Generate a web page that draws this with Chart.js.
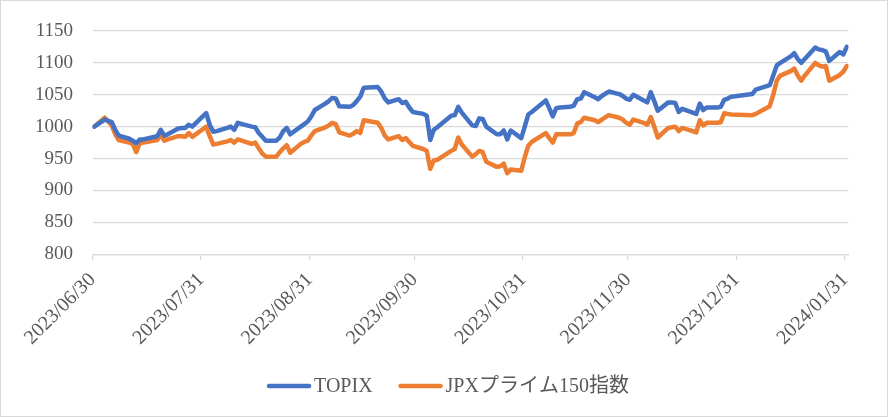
<!DOCTYPE html>
<html>
<head>
<meta charset="utf-8">
<script src="https://cdn.jsdelivr.net/npm/chart.js@4/dist/chart.umd.min.js"></script>
<style>
  html, body { margin: 0; padding: 0; background: #fff; }
  #wrap { width: 888px; height: 417px; }
</style>
</head>
<body>
<div id="wrap"><canvas id="chart" width="888" height="417"></canvas></div>
<script>
// TOPIX vs JPXプライム150指数 (2023/06/30 = 1000)

const tradingDays = [
    '2023/06/30',
    '2023/07/03', '2023/07/04', '2023/07/05', '2023/07/06', '2023/07/07', '2023/07/10', '2023/07/11', '2023/07/12', '2023/07/13', '2023/07/14',
    '2023/07/18', '2023/07/19', '2023/07/20', '2023/07/21', '2023/07/24', '2023/07/25', '2023/07/26', '2023/07/27', '2023/07/28', '2023/07/31',
    '2023/08/01', '2023/08/02', '2023/08/03', '2023/08/04', '2023/08/07', '2023/08/08', '2023/08/09', '2023/08/10', '2023/08/14', '2023/08/15', '2023/08/16',
    '2023/08/17', '2023/08/18', '2023/08/21', '2023/08/22', '2023/08/23', '2023/08/24', '2023/08/25', '2023/08/28', '2023/08/29', '2023/08/30', '2023/08/31',
    '2023/09/01', '2023/09/04', '2023/09/05', '2023/09/06', '2023/09/07', '2023/09/08', '2023/09/11', '2023/09/12', '2023/09/13', '2023/09/14',
    '2023/09/15', '2023/09/19', '2023/09/20', '2023/09/21', '2023/09/22', '2023/09/25', '2023/09/26', '2023/09/27', '2023/09/28', '2023/09/29',
    '2023/10/02', '2023/10/03', '2023/10/04', '2023/10/05', '2023/10/06', '2023/10/10', '2023/10/11', '2023/10/12', '2023/10/13', '2023/10/16', '2023/10/17',
    '2023/10/18', '2023/10/19', '2023/10/20', '2023/10/23', '2023/10/24', '2023/10/25', '2023/10/26', '2023/10/27', '2023/10/30', '2023/10/31',
    '2023/11/01', '2023/11/02', '2023/11/06', '2023/11/07', '2023/11/08', '2023/11/09', '2023/11/10', '2023/11/13', '2023/11/14', '2023/11/15',
    '2023/11/16', '2023/11/17', '2023/11/20', '2023/11/21', '2023/11/22', '2023/11/24', '2023/11/27', '2023/11/28', '2023/11/29', '2023/11/30',
    '2023/12/01', '2023/12/04', '2023/12/05', '2023/12/06', '2023/12/07', '2023/12/08', '2023/12/11', '2023/12/12', '2023/12/13', '2023/12/14', '2023/12/15',
    '2023/12/18', '2023/12/19', '2023/12/20', '2023/12/21', '2023/12/22', '2023/12/25', '2023/12/26', '2023/12/27', '2023/12/28', '2023/12/29',
    '2024/01/04', '2024/01/05', '2024/01/09', '2024/01/10', '2024/01/11', '2024/01/12', '2024/01/15', '2024/01/16', '2024/01/17', '2024/01/18',
    '2024/01/19', '2024/01/22', '2024/01/23', '2024/01/24', '2024/01/25', '2024/01/26', '2024/01/29', '2024/01/30', '2024/01/31'
];

const topix = [
    1000,
    1011, 1009, 1007, 995, 986, 981, 978, 974, 980, 980, 985, 995, 986, 988, 997, 998, 998, 1003, 1000, 1016,
    1021, 1003, 992, 993, 998, 1000, 995, 1006, 1000, 999, 990, 984, 978, 978, 983, 993, 998, 988, 1000, 1004, 1008, 1016,
    1026, 1036, 1040, 1045, 1044, 1032, 1031, 1034, 1040, 1047, 1061, 1062, 1055, 1044, 1038, 1043, 1037, 1039, 1030, 1023,
    1020, 1017, 979, 995, 999, 1017, 1018, 1031, 1022, 1002, 1001, 1013, 1012, 1000, 988, 988, 994, 980, 994, 982, 1000,
    1019, 1023, 1041, 1029, 1016, 1029, 1030, 1031, 1033, 1043, 1044, 1054, 1046, 1043, 1048, 1055, 1051, 1048, 1044, 1042,
    1050, 1041, 1038, 1054, 1040, 1025, 1038, 1038, 1037, 1023, 1028, 1022, 1020, 1036, 1026, 1030, 1030, 1031, 1042, 1044, 1047,
    1051, 1058, 1065, 1080, 1096, 1100, 1110, 1115, 1106, 1100, 1106, 1124, 1121, 1120, 1118, 1103, 1117, 1113, 1125
];

const jpxPrime150 = [
    1000,
    1014, 1008, 1002, 988, 979, 975, 973, 960, 974, 975, 979, 988, 978, 980, 985, 985, 984, 990, 984, 996,
    1000, 985, 972, 973, 977, 979, 975, 980, 973, 975, 966, 958, 953, 953, 960, 966, 971, 959, 973, 976, 978, 986,
    993, 999, 1002, 1006, 1004, 991, 986, 989, 993, 990, 1010, 1006, 998, 986, 980, 985, 979, 982, 976, 970,
    965, 962, 934, 947, 948, 962, 965, 983, 972, 953, 957, 962, 960, 945, 937, 938, 942, 927, 933, 931, 952,
    970, 976, 990, 982, 975, 988, 988, 988, 990, 1005, 1007, 1014, 1010, 1007, 1011, 1018, 1014, 1011, 1006, 1003,
    1011, 1006, 1003, 1015, 1000, 983, 998, 999, 1000, 993, 998, 993, 991, 1010, 1002, 1006, 1006, 1007, 1021, 1020, 1019,
    1018, 1020, 1032, 1050, 1072, 1080, 1087, 1091, 1080, 1072, 1080, 1100, 1096, 1094, 1095, 1072, 1081, 1086, 1095
];

const seriesNames = ['TOPIX', 'JPXプライム150指数'];
const seriesColors = ['#4472C4', '#ED7D31'];

const monthEnds = ['2023/06/30', '2023/07/31', '2023/08/31', '2023/09/30', '2023/10/31', '2023/11/30', '2023/12/31', '2024/01/31'];

const yMin = 800;
const yMax = 1150;
const yStep = 50;

const FONT = "'Liberation Serif', 'Noto Sans CJK JP', serif";
const TEXT_COLOR = '#595959';
const GRID_COLOR = '#D9D9D9';

// days since the first date, so the x axis behaves like a date axis
function dayNo(s) {
    const [y, m, d] = s.split('/').map(Number);
    return (Date.UTC(y, m - 1, d) - Date.UTC(2023, 5, 30)) / 86400000;
}

function toPoints(values) {
    return tradingDays.map((d, i) => ({ x: dayNo(d), y: values[i] }));
}

// white background and thin frame round the whole chart
const framePlugin = {
    id: 'frame',
    beforeDraw(chart) {
        const ctx = chart.ctx;
        ctx.save();
        ctx.fillStyle = '#fff';
        ctx.fillRect(0, 0, chart.width, chart.height);
        ctx.restore();
    },
    afterDraw(chart) {
        const ctx = chart.ctx;
        ctx.save();
        ctx.strokeStyle = GRID_COLOR;
        ctx.lineWidth = 1;
        ctx.strokeRect(0.5, 0.5, chart.width - 1, chart.height - 1);
        ctx.restore();
    }
};

// Excel-like legend: short thick line, small gap, label
const legendPlugin = {
    id: 'lineLegend',
    afterDraw(chart) {
        const ctx = chart.ctx;
        const lineLen = 44, textGap = 3, itemGap = 26;
        ctx.save();
        ctx.font = '20px ' + FONT;
        const items = chart.data.datasets.map(ds => ({
            label: ds.label,
            color: ds.borderColor,
            w: ctx.measureText(ds.label).width
        }));
        const total = items.reduce((s, it) => s + lineLen + textGap + it.w, 0) + itemGap * (items.length - 1);
        let x = 448 - total / 2;
        const y = 386;
        items.forEach(it => {
            ctx.strokeStyle = it.color;
            ctx.lineWidth = 4.5;
            ctx.lineCap = 'round';
            ctx.beginPath();
            ctx.moveTo(x + 2, y);
            ctx.lineTo(x + lineLen - 2, y);
            ctx.stroke();
            x += lineLen + textGap;
            ctx.fillStyle = TEXT_COLOR;
            ctx.textAlign = 'left';
            ctx.textBaseline = 'middle';
            ctx.fillText(it.label, x, y + 1);
            x += it.w + itemGap;
        });
        ctx.restore();
    }
};

const datasets = [topix, jpxPrime150].map((values, i) => ({
    label: seriesNames[i],
    data: toPoints(values),
    borderColor: seriesColors[i],
    backgroundColor: seriesColors[i],
    borderWidth: 4.5,
    borderCapStyle: 'round',
    borderJoinStyle: 'round',
    pointRadius: 0,
    pointHoverRadius: 0,
    tension: 0,
    fill: false
}));

new Chart(document.getElementById('chart'), {
    type: 'line',
    data: { datasets: datasets },
    options: {
        responsive: false,
        animation: false,
        devicePixelRatio: 1,
        layout: {
            padding: { top: 23, right: 39.5, bottom: 0, left: 0 }
        },
        plugins: {
            legend: { display: false },
            tooltip: { enabled: false }
        },
        scales: {
            x: {
                type: 'linear',
                min: dayNo(tradingDays[0]) - 0.5,
                max: dayNo(monthEnds[monthEnds.length - 1]) + 0.5,
                afterBuildTicks: function(scale) {
                    scale.ticks = monthEnds.map(s => ({ value: dayNo(s) - 0.5 }));
                },
                afterFit: function(scale) {
                    scale.height = 417 - 254.3;
                },
                grid: {
                    drawOnChartArea: false,
                    drawTicks: true,
                    tickLength: 6,
                    color: GRID_COLOR,
                    lineWidth: 1.3
                },
                border: {
                    display: true,
                    color: GRID_COLOR,
                    width: 1.3
                },
                ticks: {
                    autoSkip: false,
                    minRotation: 45,
                    maxRotation: 45,
                    padding: 8,
                    color: TEXT_COLOR,
                    font: { family: FONT, size: 20 },
                    callback: function(value, index) {
                        return monthEnds[index];
                    }
                }
            },
            y: {
                min: yMin,
                max: yMax,
                afterFit: function(scale) {
                    scale.width = 92.5;
                },
                grid: {
                    color: GRID_COLOR,
                    lineWidth: 1.3,
                    drawTicks: false
                },
                border: { display: false },
                ticks: {
                    stepSize: yStep,
                    padding: 19.5,
                    color: TEXT_COLOR,
                    font: { family: FONT, size: 19 },
                    callback: function(value) {
                        return String(value);
                    }
                }
            }
        }
    },
    plugins: [framePlugin, legendPlugin]
});
</script>
</body>
</html>
